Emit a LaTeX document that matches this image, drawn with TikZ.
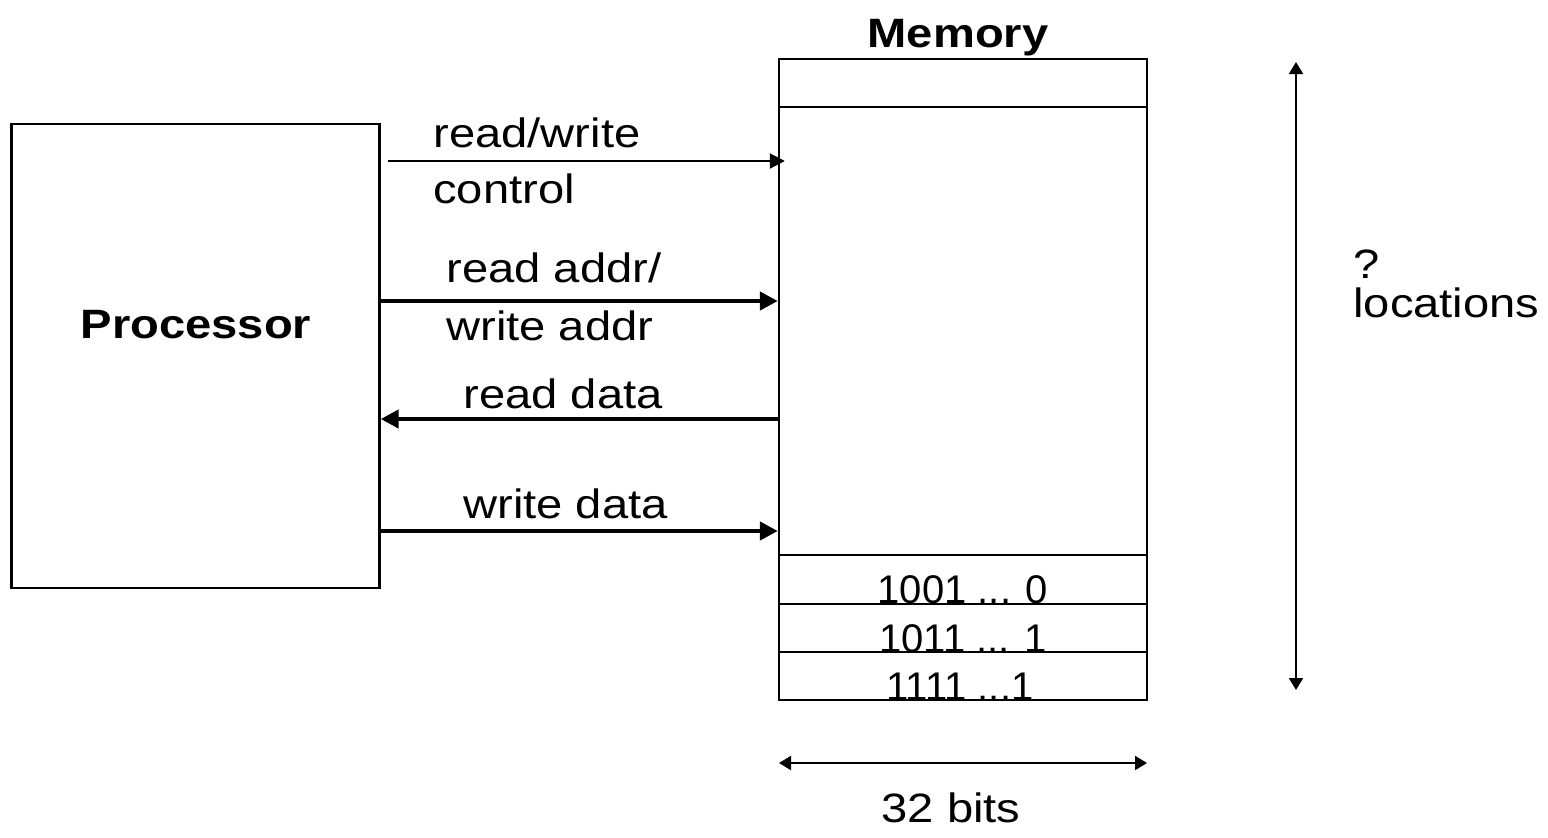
\documentclass[tikz,border=0pt]{standalone}
\usepackage{fontspec}
\setmainfont{Liberation Sans}[FakeStretch=1.15]
\newfontfamily\numfont{Liberation Sans}
\usetikzlibrary{arrows.meta}
\begin{document}
\begin{tikzpicture}[x=0.5pt,y=-0.5pt,
  box/.style={draw, line width=1.2pt, minimum width=184pt, inner sep=0pt},
  lbl/.style={anchor=base west, inner sep=0pt, font=\fontsize{20.5pt}{24pt}\selectfont},
  ttl/.style={anchor=base, inner sep=0pt, font=\fontsize{20.5pt}{24pt}\selectfont\bfseries},
  num/.style={anchor=base, inner sep=0pt, font=\numfont\fontsize{20pt}{24pt}\selectfont},
  ctrlarrow/.style={line width=1pt, -{Triangle[length=7.5pt,width=7.5pt]}},
  busarrow/.style={line width=2.4pt, -{Triangle[length=9pt,width=9pt]}},
  dimarrow/.style={line width=1pt, {Triangle[length=6pt,width=7pt]}-{Triangle[length=6pt,width=7pt]}},
  rowline/.style={line width=1.2pt}
]
\useasboundingbox (0,0) rectangle (1548,837);
% boxes
\node[box, minimum height=232pt] (proc) at (195.5,356) {};
\node[box, minimum height=320.5pt] (mem) at (963,379.5) {};
\node[ttl] (proctext) at (196,338) {Processor};
\node[ttl] (memtext) at (958,47) {Memory};
% row separators
\coordinate (r1) at (0,107);
\coordinate (r2) at (0,555);
\coordinate (r3) at (0,604);
\coordinate (r4) at (0,652);
\foreach \r in {r1,r2,r3,r4}
  \draw[rowline] (mem.west |- \r) -- (mem.east |- \r);
\node[num] (n1) at (963,603) {1001 ... 0};
\node[num] (n2) at (963,652) {1011 ... 1};
\node[num] (n3) at (960,700) {1111 ...1};
% connectors
\coordinate (yRW) at (0,161);
\coordinate (yRA) at (0,301);
\coordinate (yRD) at (0,419);
\coordinate (yWD) at (0,531);
\draw[ctrlarrow] ([xshift=3.5pt]proc.east |- yRW) -- ([xshift=3.5pt]mem.west |- yRW);
\draw[busarrow] (proc.east |- yRA) -- (mem.west |- yRA);
\draw[busarrow] (mem.west |- yRD) -- (proc.east |- yRD);
\draw[busarrow] (proc.east |- yWD) -- (mem.west |- yWD);
% labels
\node[lbl] (l1) at (433,147) {read/write};
\node[lbl] (l2) at (433,203) {control};
\node[lbl] (l3) at (446,282) {read addr/};
\node[lbl] (l4) at (446,340) {write addr};
\node[lbl] (l5) at (463,408) {read data};
\node[lbl] (l6) at (463,518) {write data};
% dimension arrows
\coordinate (vtop) at (1296,62);
\coordinate (vbot) at (1296,690);
\draw[dimarrow] (vtop) -- (vbot);
\node[lbl] (q) at (1353,278) {?};
\node[lbl] (loc) at (1353,317) {locations};
\coordinate (hl) at (779,763);
\coordinate (hr) at (1147,763);
\draw[dimarrow] (hl) -- (hr);
\node[ttl, font=\fontsize{20.5pt}{24pt}\selectfont] (bits) at (951,822) {32 bits};
\end{tikzpicture}
\end{document}
